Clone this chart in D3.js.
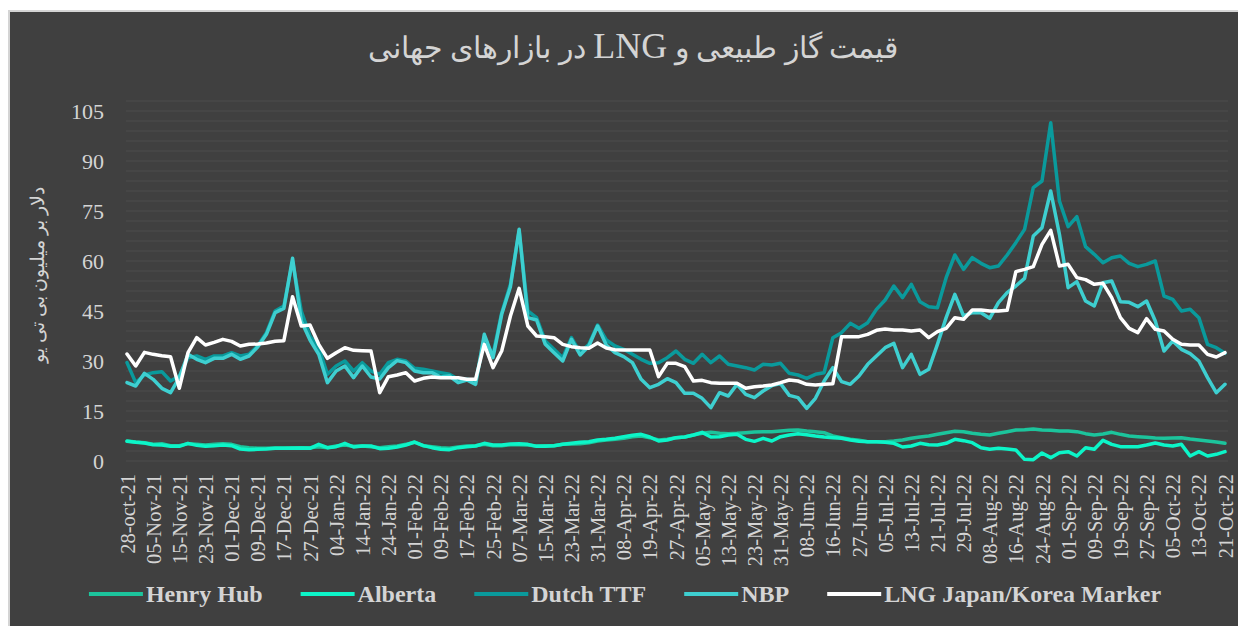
<!DOCTYPE html>
<html>
<head>
<meta charset="utf-8">
<script src="https://cdn.jsdelivr.net/npm/d3@7"></script>
<style>
  html, body { margin: 0; padding: 0; background: #ffffff; }
  svg { display: block; }
  text { font-family: "Liberation Serif", "DejaVu Serif", serif; }
</style>
</head>
<body>
<svg id="chart" width="1238" height="626"></svg>
<script>
// tick labels, one every 3rd point
const labels = ["28-oct-21","05-Nov-21","15-Nov-21","23-Nov-21","01-Dec-21","09-Dec-21","17-Dec-21","27-Dec-21",
  "04-Jan-22","14-Jan-22","24-Jan-22","01-Feb-22","09-Feb-22","17-Feb-22","25-Feb-22","07-Mar-22","15-Mar-22",
  "23-Mar-22","31-Mar-22","08-Apr-22","19-Apr-22","27-Apr-22","05-May-22","13-May-22","23-May-22","31-May-22",
  "08-Jun-22","16-Jun-22","27-Jun-22","05-Jul-22","13-Jul-22","21-Jul-22","29-Jul-22","08-Aug-22","16-Aug-22",
  "24-Aug-22","01-Sep-22","09-Sep-22","19-Sep-22","27-Sep-22","05-Oct-22","13-Oct-22","21-Oct-22"];

const yTicks = [0, 15, 30, 45, 60, 75, 90, 105];

const henryHub = [
  6.0, 5.7, 5.5, 5.0, 5.2, 4.6, 4.6, 5.2, 5.0, 4.8,
  5.0, 5.2, 5.0, 4.3, 4.0, 3.8, 3.8, 3.9, 3.9, 4.0,
  4.0, 4.0, 4.3, 4.0, 4.5, 4.8, 4.4, 4.5, 4.3, 4.0,
  4.3, 4.5, 5.0, 5.6, 4.6, 4.3, 4.0, 3.8, 4.2, 4.5,
  4.6, 5.0, 4.6, 4.6, 4.9, 4.9, 4.8, 4.5, 4.6, 4.6,
  5.0, 5.1, 5.2, 5.5, 6.0, 6.3, 6.5, 6.8, 7.3, 7.5,
  7.0, 6.3, 6.5, 7.0, 7.2, 7.8, 8.3, 8.6, 8.3, 8.2,
  8.3, 8.5, 8.7, 8.8, 8.8, 9.0, 9.2, 9.3, 9.0, 8.8,
  8.5, 7.5, 7.0, 6.5, 6.2, 5.8, 5.8, 5.8, 6.0, 6.3,
  6.8, 7.2, 7.5, 8.0, 8.5, 8.9, 8.8, 8.3, 8.0, 7.8,
  8.3, 8.8, 9.3, 9.4, 9.6, 9.3, 9.2, 9.0, 9.0, 8.8,
  8.2, 7.8, 8.1, 8.6, 8.0, 7.5, 7.3, 7.1, 6.9, 6.8,
  6.9, 7.0, 6.6, 6.3, 6.0, 5.7, 5.3];

const alberta = [
  5.9, 5.6, 5.4, 4.9, 4.8, 4.4, 4.4, 5.3, 4.7, 4.4,
  4.6, 4.8, 4.6, 3.6, 3.4, 3.5, 3.6, 3.8, 3.8, 3.8,
  3.9, 3.8, 5.0, 4.0, 4.3, 5.3, 4.2, 4.5, 4.5, 3.7,
  3.8, 4.2, 4.8, 5.7, 4.6, 4.0, 3.5, 3.4, 4.0, 4.3,
  4.5, 5.3, 4.8, 4.8, 5.1, 5.2, 5.0, 4.4, 4.4, 4.6,
  5.0, 5.3, 5.6, 5.8, 6.3, 6.5, 6.8, 7.3, 7.7, 8.0,
  7.2, 6.0, 6.3, 7.0, 7.2, 7.8, 8.6, 7.2, 7.3, 7.8,
  8.0, 6.5, 5.9, 6.8, 6.0, 7.3, 7.8, 8.2, 7.9, 7.5,
  7.2, 7.0, 6.8, 6.3, 5.9, 5.8, 5.8, 5.6, 5.3, 4.2,
  4.5, 5.3, 4.9, 4.8, 5.3, 6.5, 6.1, 5.5, 4.0, 3.5,
  3.8, 3.6, 3.3, 0.5, 0.4, 2.4, 1.0, 2.5, 2.8, 1.5,
  4.0, 3.5, 6.2, 5.0, 4.3, 4.3, 4.3, 4.8, 5.4, 4.8,
  4.5, 5.0, 1.5, 2.8, 1.5, 2.0, 2.8];

const dutchTTF = [
  29.5, 23.5, 25.8, 26.5, 26.8, 24.0, 25.5, 31.0, 31.5, 30.5,
  31.5, 31.5, 32.5, 31.5, 32.0, 34.5, 38.5, 45.0, 46.5, 60.0,
  45.0, 37.5, 34.0, 26.0, 28.5, 30.0, 27.0, 29.5, 27.0, 26.0,
  29.5, 30.5, 30.0, 27.8, 27.5, 27.0, 26.5, 26.0, 24.5, 24.5,
  24.0, 36.0, 32.0, 44.5, 53.0, 69.0, 45.0, 43.0, 36.0, 33.5,
  31.0, 37.0, 32.5, 35.0, 40.8, 36.3, 34.5, 33.5, 32.0, 30.5,
  29.3, 29.5, 31.0, 33.0, 30.5, 29.3, 32.0, 29.5, 31.5, 29.0,
  28.5, 28.0, 27.3, 29.0, 28.8, 29.3, 26.3, 25.8, 24.8, 26.0,
  26.5, 37.0, 38.5, 41.3, 39.8, 41.5, 45.5, 48.3, 52.5, 49.0,
  53.0, 47.8, 46.3, 46.0, 55.0, 61.8, 57.5, 61.0, 59.3, 58.0,
  58.5, 61.8, 65.5, 69.5, 82.0, 84.0, 101.5, 78.0, 70.3, 73.3,
  64.3, 62.0, 59.5, 61.0, 61.5, 59.3, 58.3, 59.0, 60.0, 49.5,
  48.5, 45.0, 45.5, 43.0, 35.0, 34.0, 32.3];

const nbp = [
  23.5, 22.5, 26.3, 24.5, 21.8, 20.5, 25.0, 32.0, 30.5, 29.5,
  30.8, 30.8, 32.0, 30.5, 31.5, 34.2, 38.0, 44.5, 45.8, 60.8,
  42.0, 36.3, 32.0, 23.5, 27.0, 28.5, 25.0, 28.5, 25.2, 24.6,
  28.0, 30.1, 29.5, 27.0, 26.5, 26.5, 25.2, 25.5, 23.5, 24.3,
  23.0, 38.0, 31.0, 44.0, 52.3, 69.5, 43.0, 42.3, 35.0, 32.5,
  30.0, 36.5, 31.8, 34.5, 40.5, 34.8, 32.5, 31.3, 29.5, 24.5,
  22.0, 23.0, 24.7, 23.5, 20.3, 20.3, 18.8, 16.0, 20.5, 19.5,
  23.0, 20.0, 19.0, 21.0, 22.6, 23.2, 19.7, 19.0, 15.8, 18.8,
  24.0, 28.0, 23.8, 23.0, 25.5, 29.0, 31.5, 34.0, 35.3, 28.0,
  32.0, 26.0, 27.5, 35.0, 43.0, 50.0, 43.5, 44.5, 44.5, 42.8,
  47.5, 50.5, 52.5, 54.8, 67.5, 70.0, 81.0, 68.0, 52.0, 53.8,
  48.0, 46.5, 53.5, 54.0, 47.8, 47.6, 46.3, 48.0, 42.0, 33.0,
  36.0, 33.5, 32.2, 30.0, 25.0, 20.5, 23.0];

const lngJK = [
  32.1, 28.5, 32.6, 32.0, 31.6, 31.3, 21.8, 32.5, 37.0, 34.8,
  35.6, 36.5, 35.9, 34.5, 35.0, 35.1, 35.4, 35.9, 36.1, 49.3,
  40.5, 40.8, 35.0, 30.8, 32.5, 34.0, 33.2, 33.1, 33.0, 20.5,
  25.3, 25.8, 26.5, 24.0, 24.8, 25.2, 25.0, 25.0, 25.0, 24.5,
  24.5, 35.0, 28.0, 33.0, 43.5, 51.8, 40.5, 37.5, 37.3, 37.0,
  35.0, 34.3, 34.0, 33.8, 35.4, 33.9, 33.4, 33.3, 33.3, 33.3,
  33.3, 25.3, 29.3, 29.3, 28.3, 24.0, 24.2, 23.5, 23.3, 23.3,
  23.3, 21.8, 22.3, 22.5, 22.8, 23.5, 24.3, 24.0, 23.0, 22.8,
  23.0, 23.2, 37.3, 37.3, 37.3, 38.0, 39.2, 39.6, 39.3, 39.3,
  39.0, 39.3, 37.0, 38.8, 39.8, 43.0, 42.5, 45.3, 45.3, 45.0,
  45.0, 45.2, 56.8, 57.5, 58.3, 65.0, 69.2, 58.5, 59.0, 55.0,
  54.4, 53.0, 53.3, 49.0, 43.0, 39.8, 38.5, 42.7, 39.5, 39.0,
  36.5, 35.0, 34.8, 34.8, 32.0, 31.2, 32.5];

const seriesNames = ["Henry Hub", "Alberta", "Dutch TTF", "NBP", "LNG Japan/Korea Marker"];
const seriesColors = ["#1cc49c", "#0cf5c8", "#0a9a9c", "#3ecfd0", "#ffffff"];
const seriesData = [henryHub, alberta, dutchTTF, nbp, lngJK];

const W = 1238, H = 626;
const margin = { left: 126, right: 13, top: 101, bottom: 165 };
const serif = "Liberation Serif, DejaVu Serif, serif";
const textColor = "#d4d4d4";

const svg = d3.select("#chart");

// chart background with thin light frame (only left/top edges show)
svg.append("rect")
  .attr("x", 9).attr("y", 11)
  .attr("width", W + 20).attr("height", H + 20)
  .attr("fill", "#404040")
  .attr("stroke", "#d4d4d4")
  .attr("stroke-width", 2);

const n = lngJK.length;
const x = d3.scaleLinear().domain([0, n - 1]).range([127, 1225]);
const y = d3.scaleLinear().domain([0, 108]).range([461, 101]);

// faint gridlines every 3 units
svg.append("g")
  .selectAll("line")
  .data(d3.range(0, 109, 3))
  .join("line")
  .attr("x1", margin.left).attr("x2", 1228)
  .attr("y1", d => y(d)).attr("y2", d => y(d))
  .attr("stroke", "#4c4c4c")
  .attr("stroke-width", 1);

// y axis
const yAxis = svg.append("g")
  .attr("transform", `translate(${margin.left},0)`)
  .call(d3.axisLeft(y).tickValues(yTicks).tickSize(0).tickPadding(22));
yAxis.attr("font-family", null);
yAxis.select(".domain").remove();
yAxis.selectAll("text")
  .attr("fill", textColor)
  .style("font-family", serif)
  .attr("font-size", 22);

// x axis, rotated labels
const tickIdx = labels.map((d, i) => i * 3);
const xAxis = svg.append("g")
  .attr("transform", "translate(0,474)")
  .call(d3.axisBottom(x).tickValues(tickIdx).tickSize(0).tickFormat(d => labels[d / 3]));
xAxis.attr("font-family", null);
xAxis.select(".domain").remove();
xAxis.selectAll("text")
  .attr("fill", textColor)
  .style("font-family", serif)
  .attr("font-size", 20.5)
  .attr("text-anchor", "end")
  .attr("dominant-baseline", "central")
  .attr("transform", "rotate(-90)")
  .attr("x", 0).attr("y", 0).attr("dy", null);

// lines
const line = d3.line()
  .x((d, i) => x(i))
  .y(d => y(d));

svg.append("g")
  .selectAll("path")
  .data(seriesData)
  .join("path")
  .attr("d", d => line(d))
  .attr("fill", "none")
  .attr("stroke", (d, i) => seriesColors[i])
  .attr("stroke-width", 3.5)
  .attr("stroke-linejoin", "round")
  .attr("stroke-linecap", "round");

// title (latin part a bit larger, like the original)
const title = svg.append("text")
  .attr("x", 633).attr("y", 58)
  .attr("text-anchor", "middle")
  .attr("direction", "rtl")
  .attr("fill", textColor)
  .style("font-family", serif)
  .attr("font-size", 30);
title.append("tspan").text("قیمت گاز طبیعی و ");
title.append("tspan").attr("font-size", 36).text("LNG");
title.append("tspan").text(" در بازارهای جهانی");

// y axis title
svg.append("text")
  .attr("transform", "translate(38,275) rotate(-90)")
  .attr("text-anchor", "middle")
  .attr("dominant-baseline", "central")
  .attr("direction", "rtl")
  .attr("fill", textColor)
  .style("font-family", serif)
  .attr("font-size", 18.5)
  .text("دلار بر میلیون بی تی یو");

// legend
const legend = svg.append("g");
const items = legend.selectAll("g")
  .data(seriesNames)
  .join("g");
items.append("line")
  .attr("x1", 0).attr("x2", 54)
  .attr("y1", 0).attr("y2", 0)
  .attr("stroke", (d, i) => seriesColors[i])
  .attr("stroke-width", 4);
items.append("text")
  .attr("x", 57).attr("y", 0)
  .attr("dominant-baseline", "central")
  .attr("fill", textColor)
  .style("font-family", serif)
  .attr("font-weight", "bold")
  .attr("font-size", 24)
  .text(d => d);

const gap = 38;
let pos = 0;
items.each(function() {
  const w = 57 + d3.select(this).select("text").node().getComputedTextLength();
  d3.select(this).attr("transform", `translate(${pos},0)`);
  pos += w + gap;
});
const total = pos - gap;
legend.attr("transform", `translate(${625 - total / 2},594)`);
</script>
</body>
</html>
